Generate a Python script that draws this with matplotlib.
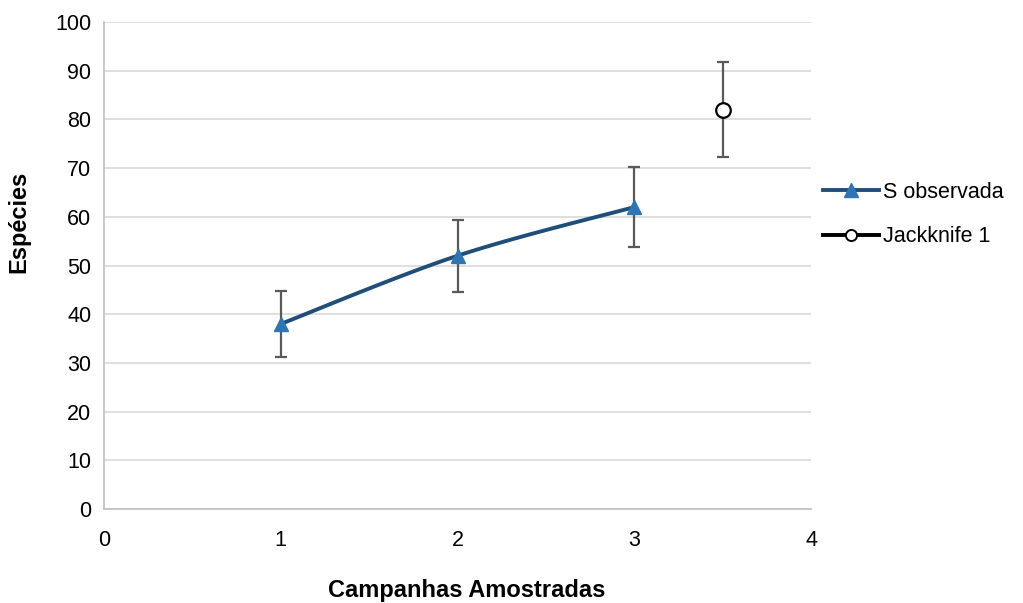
import numpy as np
import matplotlib
matplotlib.use("Agg")
import matplotlib.pyplot as plt
from matplotlib.lines import Line2D

plt.rcParams['font.family'] = ['Liberation Sans', 'DejaVu Sans']

# Observed richness per sampling campaign
campanhas = [1, 2, 3]
s_observada = [38, 52, 62]
s_obs_erro = [6.8, 7.4, 8.2]

# First-order jackknife estimate
jack_x = [3.5]
jackknife1 = [82]
jack_erro = [9.8]

x_ticks = [0, 1, 2, 3, 4]
y_ticks = list(range(0, 101, 10))


def smooth_curve(xs, ys, n=40):
    """Catmull-Rom curve through the given points (spreadsheet-style smoothed line)."""
    xs = np.asarray(xs, float)
    ys = np.asarray(ys, float)
    px = np.concatenate([[xs[0]], xs, [xs[-1]]])
    py = np.concatenate([[ys[0]], ys, [ys[-1]]])
    outx, outy = [], []
    for i in range(1, len(px) - 2):
        t = np.linspace(0, 1, n)
        p0x, p1x, p2x, p3x = px[i - 1:i + 3]
        p0y, p1y, p2y, p3y = py[i - 1:i + 3]
        c1x = p1x + (p2x - p0x) / 6
        c1y = p1y + (p2y - p0y) / 6
        c2x = p2x - (p3x - p1x) / 6
        c2y = p2y - (p3y - p1y) / 6
        bx = (1 - t) ** 3 * p1x + 3 * (1 - t) ** 2 * t * c1x + 3 * (1 - t) * t ** 2 * c2x + t ** 3 * p2x
        by = (1 - t) ** 3 * p1y + 3 * (1 - t) ** 2 * t * c1y + 3 * (1 - t) * t ** 2 * c2y + t ** 3 * p2y
        outx.extend(bx)
        outy.extend(by)
    return np.array(outx), np.array(outy)


fig = plt.figure(figsize=(10.23, 6.03), dpi=100)
ax = fig.add_axes([104 / 1023, 94 / 603, 707 / 1023, 487 / 603])

line_col = '#1F4E79'
marker_col = '#2E75B6'
err_col = '#595959'

# error bars
ax.errorbar(campanhas, s_observada, yerr=s_obs_erro, fmt='none', ecolor=err_col,
            elinewidth=1.6, capsize=4.5, capthick=1.6, zorder=3)
ax.errorbar(jack_x, jackknife1, yerr=jack_erro, fmt='none', ecolor=err_col,
            elinewidth=1.6, capsize=4.5, capthick=1.6, zorder=3)

# smoothed observed line
sx, sy = smooth_curve(campanhas, s_observada)
ax.plot(sx, sy, color=line_col, lw=2.8, zorder=4, solid_capstyle='round')
ax.plot(campanhas, s_observada, linestyle='none', marker='^', markersize=10,
        color=marker_col, zorder=5)

# jackknife point
ax.plot(jack_x, jackknife1, linestyle='none', marker='o', markersize=10.5,
        markerfacecolor='white', markeredgecolor='black', markeredgewidth=1.6, zorder=5)

ax.set_xlim(0, 4)
ax.set_ylim(0, 100)
ax.set_xticks(x_ticks)
ax.set_yticks(y_ticks)
ax.tick_params(axis='both', length=0, labelsize=15.5, colors='black')
ax.tick_params(axis='y', pad=9)
ax.tick_params(axis='x', pad=15)
ax.yaxis.grid(True, color='#D9D9D9', lw=1.2)
ax.set_axisbelow(True)
for side in ['top', 'right']:
    ax.spines[side].set_visible(False)
for side in ['left', 'bottom']:
    ax.spines[side].set_color('#BFBFBF')
    ax.spines[side].set_linewidth(1.2)

fig.text(467 / 1023, 1 - 590 / 603, 'Campanhas Amostradas', fontsize=17, fontweight='bold',
         ha='center', va='center')
fig.text(19 / 1023, 1 - 222 / 603, 'Espécies', fontsize=17, fontweight='bold',
         ha='center', va='center', rotation=90)

handles = [
    Line2D([0], [0], color=line_col, lw=2.8, marker='^', markersize=10,
           markerfacecolor=marker_col, markeredgecolor=marker_col),
    Line2D([0], [0], color='black', lw=2.8, marker='o', markersize=8,
           markerfacecolor='white', markeredgecolor='black', markeredgewidth=1.4),
]
fig.legend(handles, ['S observada', 'Jackknife 1'], loc='upper left',
           bbox_to_anchor=(823 / 1023, 1 - 182 / 603), frameon=False, fontsize=15.5,
           handlelength=2.6, handletextpad=0.2, labelspacing=1.08, borderaxespad=0,
           borderpad=0)

fig.savefig('out.png', dpi=100)
